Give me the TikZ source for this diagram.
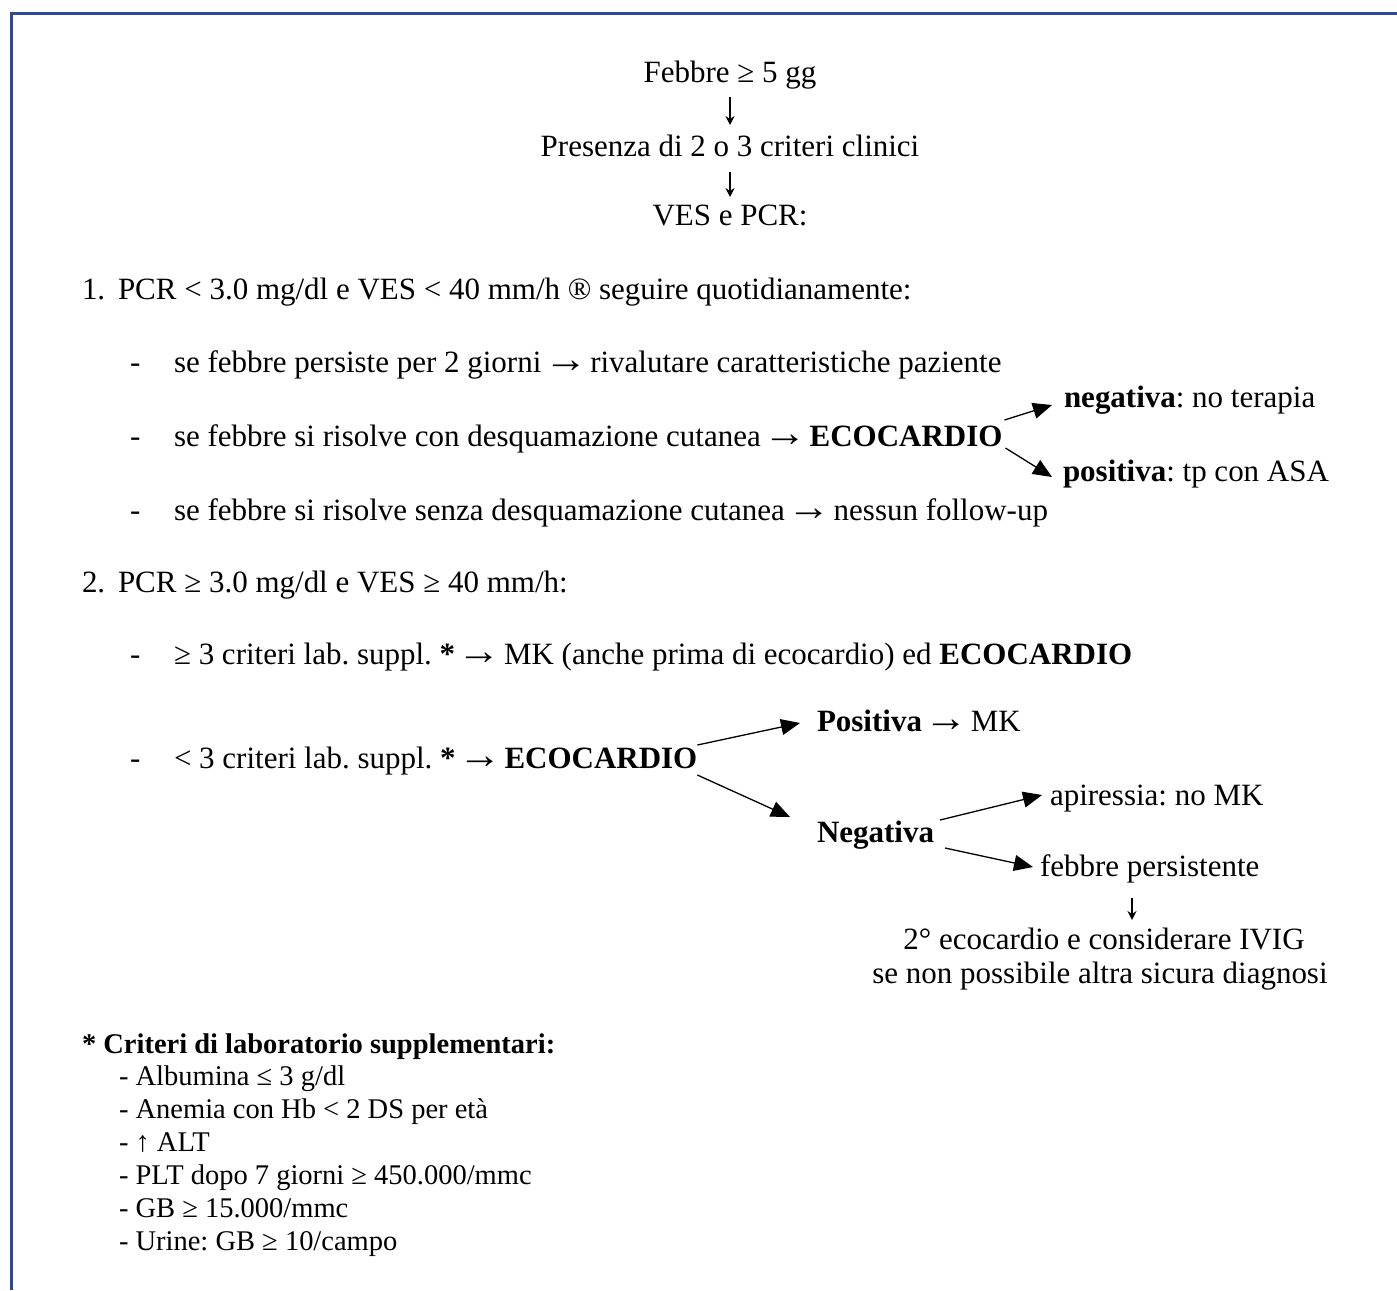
\documentclass[tikz,border=0pt]{standalone}
\usepackage{fontspec}
\usepackage{graphicx}
\setmainfont{Liberation Serif}
\usetikzlibrary{arrows.meta}
\definecolor{framecol}{RGB}{47,73,152}
\frenchspacing
\newcommand\mainsz{\fontsize{31.1pt}{36pt}\selectfont\frenchspacing}
\newcommand\notesz{\fontsize{28.6pt}{33pt}\selectfont\frenchspacing}
\newcommand\rarw{\kern-5pt\raisebox{-0.5pt}{\scalebox{1.4}[1.3]{→}}\kern-5pt}
\begin{document}
\begin{tikzpicture}[x=1bp,y=-1bp,
  txt/.style={inner sep=0pt, outer sep=0pt, font=\mainsz, anchor=base west},
  ctr/.style={inner sep=0pt, outer sep=0pt, font=\mainsz, anchor=base},
  note/.style={inner sep=0pt, outer sep=0pt, font=\notesz, anchor=base west},
  arr/.style={-{Triangle[length=19bp,width=16bp]}, line width=1.3bp},
  darr/.style={-{Stealth[length=9bp,width=9bp,inset=3bp]}, line width=1.5bp}]
\useasboundingbox (0,0) rectangle (1397,1290);
\fill[white] (0,0) rectangle (1397,1290);
\draw[framecol, line width=3bp] (11.5,1290) -- (11.5,13.5) -- (1397,13.5);

% header
\node[ctr] (fever) at (730,82) {Febbre ≥ 5 gg};
\node[ctr] (pres) at (730,156) {Presenza di 2 o 3 criteri clinici};
\node[ctr] (ves) at (730,225) {VES e PCR:};
\draw[darr] ([shift={(0,15)}]fever.base) -- ([shift={(0,-31)}]pres.base);
\draw[darr] ([shift={(0,16)}]pres.base) -- ([shift={(0,-28)}]ves.base);

% section 1
\node[txt] (s1num) at (82,299) {1.};
\node[txt] (s1) at (118,299) {PCR < 3.0 mg/dl e VES < 40 mm/h ® seguire quotidianamente:};
\node[txt] (d1) at (130,372) {-};
\node[txt] (a1) at (174,372) {se febbre persiste per 2 giorni \rarw{} rivalutare caratteristiche paziente};
\node[txt] (d2) at (130,446) {-};
\node[txt] (a2) at (174,446) {se febbre si risolve con desquamazione cutanea \rarw{} \textbf{ECOCARDIO}};
\node[txt] (d3) at (130,520) {-};
\node[txt] (a3) at (174,520) {se febbre si risolve senza desquamazione cutanea \rarw{} nessun follow-up};
\node[txt] (neg1) at (1064,407) {\textbf{negativa}: no terapia};
\node[txt] (pos1) at (1063,481) {\textbf{positiva}: tp con ASA};
\draw[arr] ([shift={(2,-26)}]a2.base east) -- ([shift={(-12,-2)}]neg1.base west);
\draw[arr] ([shift={(3,2)}]a2.base east) -- ([shift={(-11,-4)}]pos1.base west);

% section 2
\node[txt] (s2num) at (82,592) {2.};
\node[txt] (s2) at (118,592) {PCR ≥ 3.0 mg/dl e VES ≥ 40 mm/h:};
\node[txt] (d4) at (130,664) {-};
\node[txt] (b1) at (174,664) {≥ 3 criteri lab. suppl. \textbf{*} \rarw{} MK (anche prima di ecocardio) ed \textbf{ECOCARDIO}};
\node[txt] (d5) at (130,768) {-};
\node[txt] (b2) at (174,768) {< 3 criteri lab. suppl. \textbf{*} \rarw{} \textbf{ECOCARDIO}};
\node[txt] (posk) at (817,731) {\textbf{Positiva} \rarw{} MK};
\node[txt] (negk) at (817,842) {\textbf{Negativa}};
\node[txt] (apir) at (1050,805) {apiressia: no MK};
\node[txt] (febp) at (1040,876) {febbre persistente};
\node[ctr] (ivig1) at (1104,949) {2° ecocardio e considerare IVIG};
\node[ctr] (ivig2) at (1100,983) {se non possibile altra sicura diagnosi};
\draw[arr] ([shift={(0,-23)}]b2.base east) -- ([shift={(-17,-8)}]posk.base west);
\draw[arr] ([shift={(0,7)}]b2.base east) -- ([shift={(-27,-25)}]negk.base west);
\draw[arr] ([shift={(6,-22)}]negk.base east) -- ([shift={(-8,-10)}]apir.base west);
\draw[arr] ([shift={(11,6)}]negk.base east) -- ([shift={(-7,-9)}]febp.base west);
\draw[darr] ([shift={(92,22)}]febp.base west) -- ([shift={(28,-29)}]ivig1.base);

% footnote
\node[note] (fn) at (82,1053) {\textbf{* Criteri di laboratorio supplementari:}};
\node[note] (f1) at (119,1085) {- Albumina ≤ 3 g/dl};
\node[note] (f2) at (119,1118) {- Anemia con Hb < 2 DS per età};
\node[note] (f3) at (119,1151) {- ↑ ALT};
\node[note] (f4) at (119,1184) {- PLT dopo 7 giorni ≥ 450.000/mmc};
\node[note] (f5) at (119,1217) {- GB ≥ 15.000/mmc};
\node[note] (f6) at (119,1250) {- Urine: GB ≥ 10/campo};
\end{tikzpicture}
\end{document}
